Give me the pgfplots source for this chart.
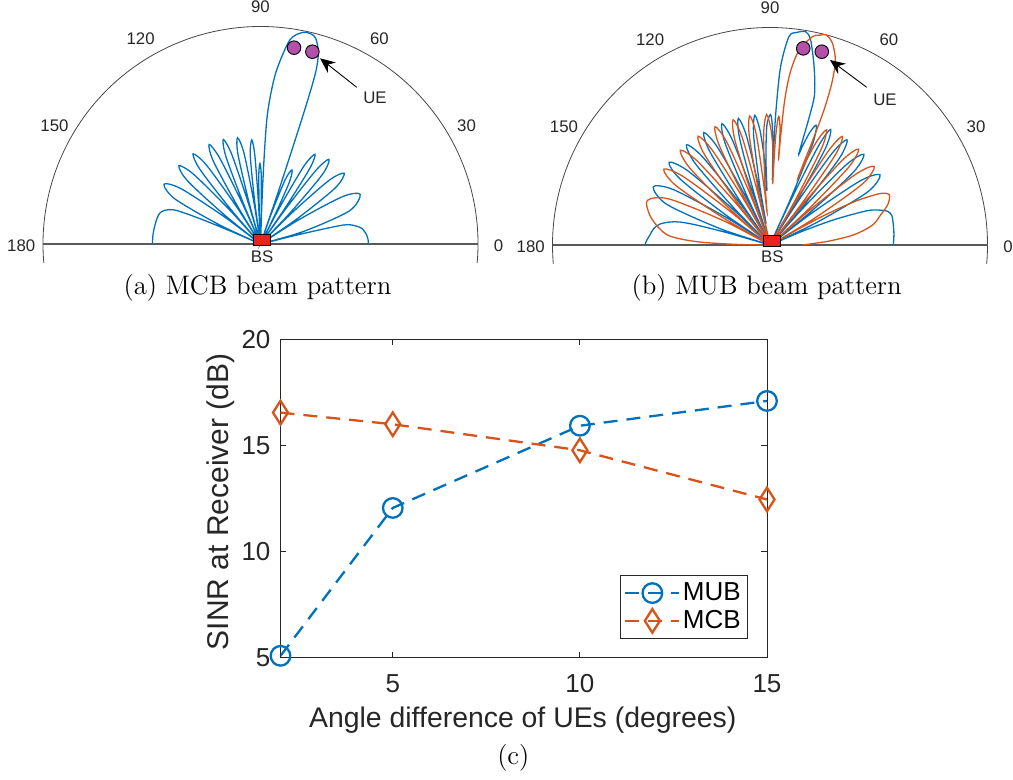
\documentclass[border=0pt]{standalone}
\usepackage{fontspec}
\usepackage{pgfplots}
\pgfplotsset{compat=1.18}
\usetikzlibrary{arrows.meta}
\newfontfamily\lsans{Liberation Sans}
\definecolor{mblue}{RGB}{0,114,189}
\definecolor{morange}{RGB}{217,83,25}
\definecolor{axgray}{RGB}{38,38,38}
\definecolor{uepurple}{RGB}{178,80,170}
\definecolor{bsred}{RGB}{232,35,31}
\definecolor{arcgray}{RGB}{70,70,70}
\pgfplotsset{
  beampolar/.style={x=108.75pt, y=108.75pt, xmin=-1.2, xmax=1.2, ymin=-0.15, ymax=1.15,
    axis lines=none, clip=false, anchor=south west},
}
\tikzset{anglab/.style={font=\lsans\fontsize{8.4}{10}\selectfont, text=axgray}}
\begin{document}
\begin{tikzpicture}
\path[use as bounding box] (0,0) rectangle (506.5pt,-390pt);
% ---------------- (a) MCB beam pattern ----------------
\begin{axis}[beampolar, at={(-0.25pt,-138.3125pt)}]
\draw[arcgray, line width=0.4pt] (axis cs:0.99619,-0.08716) arc[start angle=-5, end angle=185, radius=108.75pt];
\draw[black!65, line width=0.8pt] (axis cs:-1,0) -- (axis cs:1,0);
\addplot[mblue, line width=0.65pt, smooth, data cs=polar] coordinates {
(0,0.496) (2.5,0.495) (4.8,0.49) (8.8,0.471) (11.8,0.428) (12.9,0.39) (13.4,0.3) (13.9,0.15) (14.3,0)
(16.25,0.205) (20.4,0.435) (26.5,0.512) (30.0,0.435) (32.4,0.205) (33.5,0)
(34.57,0.202) (36.85,0.428) (40.2,0.504) (42.9,0.428) (44.74,0.202) (45.6,0)
(46.46,0.2) (48.3,0.426) (51.0,0.501) (53.0,0.426) (54.36,0.2) (55.0,0)
(55.59,0.193) (56.85,0.411) (58.7,0.483) (60.85,0.411) (62.31,0.193) (63,0)
(63.64,0.148) (65,0.315) (67,0.37) (69,0.315) (70.36,0.148) (71,0)
(71.2,0.25) (71.5,0.45) (71.8,0.68) (72.2,0.83) (73.2,0.92) (75.3,0.985) (78.5,0.993) (81.8,0.948) (84.7,0.803) (86.2,0.68) (87.1,0.571) (87.6,0.4) (88.0,0.2) (88.3,0)
(88.64,0.148) (89.35,0.315) (90.4,0.37) (91.45,0.315) (92.16,0.148) (92.5,0)
(92.87,0.192) (93.65,0.408) (94.8,0.48) (96.6,0.408) (97.82,0.192) (98.4,0)
(99.01,0.2) (100.3,0.425) (102.2,0.5) (104.1,0.425) (105.39,0.2) (106.0,0)
(106.58,0.204) (107.8,0.434) (109.6,0.51) (111.55,0.434) (112.88,0.204) (113.5,0)
(114.11,0.206) (115.4,0.438) (117.3,0.515) (119.65,0.438) (121.25,0.206) (122.0,0)
(122.77,0.207) (124.4,0.439) (126.8,0.517) (129.1,0.439) (130.66,0.207) (131.4,0)
(132.17,0.208) (133.8,0.442) (136.2,0.52) (139.15,0.442) (141.16,0.208) (142.1,0)
(143.08,0.209) (145.15,0.444) (148.2,0.522) (152.25,0.444) (155.0,0.209) (156.3,0)
(156.7,0.15) (157.3,0.3) (158.3,0.42) (160.5,0.465) (162.9,0.484) (166,0.49) (170,0.493) (175,0.496) (180,0.497)
};
\addplot[only marks, mark=square*, mark size=2.8pt, mark options={xscale=1.52, fill=bsred, draw=black, line width=0.5pt}, data cs=polar] coordinates {(72,0.018)};
\addplot[only marks, mark=*, mark size=3.4pt, mark options={fill=uepurple, draw=black, line width=0.45pt}, data cs=polar] coordinates {(80.3,0.9157) (74.9,0.9157)};
\draw[black, line width=0.45pt, -{Stealth[length=7.5pt,width=6.5pt]}] (axis cs:0.4423,0.7205) -- (axis cs:0.2736,0.8538);
\node[anglab] at (axis cs:0.5264,0.6699) {UE};
\node[anglab] at (axis cs:0.007,-0.058) {BS};
\node[anglab] at (axis cs:0,1.091) {90};
\node[anglab] at (axis cs:-0.551,0.9457) {120};
\node[anglab] at (axis cs:0.547,0.9457) {60};
\node[anglab] at (axis cs:-0.9474,0.5425) {150};
\node[anglab] at (axis cs:0.9474,0.5425) {30};
\node[anglab] at (axis cs:-1.1,-0.008) {180};
\node[anglab] at (axis cs:1.094,-0.008) {0};
\end{axis}
% ---------------- (b) MUB beam pattern ----------------
\begin{axis}[beampolar, at={(254.5pt,-138.8125pt)}]
\draw[arcgray, line width=0.4pt] (axis cs:0.99619,-0.08716) arc[start angle=-5, end angle=185, radius=108.75pt];
\draw[black!65, line width=0.8pt] (axis cs:-1,0) -- (axis cs:1,0);
\addplot[mblue, line width=0.65pt, smooth, data cs=polar] coordinates {
(0,0.567) (5,0.572) (10,0.575) (13.8,0.576) (16,0.562) (17.9,0.523) (19.5,0.47) (21.5,0.32) (23,0.16) (24.5,0)
(25.78,0.24) (28.5,0.51) (32.5,0.6) (35.4,0.51) (37.37,0.24) (38.3,0)
(39.21,0.24) (41.15,0.51) (44,0.6) (46.45,0.51) (48.12,0.24) (48.9,0)
(49.68,0.24) (51.35,0.51) (53.8,0.6) (55.9,0.51) (57.33,0.24) (58,0)
(58.69,0.24) (60.15,0.51) (62.3,0.6) (63.9,0.51) (64.99,0.24) (65.5,0)
(66.0,0.236) (67.1,0.5) (68.8,0.59) (70.5,0.55) (71.8,0.48) (72.5,0.44)
(72.9,0.6) (73.5,0.72) (76.1,0.844) (78.8,0.961) (80.5,0.994) (82.8,0.985) (84.8,0.962) (86.6,0.821) (87.5,0.606) (87.8,0.42) (87.9,0.3)
(88.3,0.45) (88.9,0.55) (89.8,0.6) (91.5,0.55) (92.7,0.4) (93.3,0.25)
(93.8,0.4) (95.0,0.53) (96.7,0.6) (98.5,0.51) (99.8,0.28) (100.3,0.1)
(100.89,0.26) (102.15,0.51) (104,0.6) (105.9,0.51) (107.19,0.24) (107.8,0)
(108.41,0.24) (109.7,0.51) (111.6,0.6) (113.8,0.51) (115.3,0.24) (116,0)
(116.72,0.24) (118.25,0.51) (120.5,0.6) (122.8,0.51) (124.36,0.24) (125.1,0)
(125.85,0.24) (127.45,0.51) (129.8,0.6) (132.5,0.51) (134.34,0.24) (135.2,0)
(136.08,0.24) (137.95,0.51) (140.7,0.6) (143.75,0.51) (145.82,0.24) (146.8,0)
(147.87,0.24) (150.15,0.51) (153.5,0.6) (158.5,0.51) (161.9,0.24) (163.5,0)
(164,0.2) (164.8,0.35) (165.7,0.427) (167,0.47) (169.2,0.515) (172,0.54) (175.2,0.554) (178,0.568) (180,0.575)
};
\addplot[morange, line width=0.65pt, smooth, data cs=polar] coordinates {
(0,0.15) (2,0.2) (4,0.28) (7,0.39) (11,0.48) (15.2,0.527) (19,0.573) (22.8,0.595) (25,0.56) (27,0.45) (28.5,0.3) (29.3,0.15) (29.9,0)
(31.04,0.24) (33.45,0.51) (37.0,0.6) (39.55,0.51) (41.28,0.24) (42.1,0)
(42.93,0.24) (44.7,0.51) (47.3,0.6) (49.55,0.51) (51.08,0.24) (51.8,0)
(52.52,0.24) (54.05,0.51) (56.3,0.6) (58.15,0.51) (59.41,0.24) (60,0)
(60.61,0.236) (61.9,0.5) (63.8,0.59) (65.6,0.53) (66.8,0.42) (67.4,0.33)
(67.8,0.52) (68.2,0.668) (69.1,0.797) (70.5,0.9) (72.8,0.971) (75,1.0) (76.4,0.993) (78.5,0.977) (81.5,0.906) (83.3,0.8) (84.2,0.67) (84.4,0.5) (84.3,0.39)
(84.8,0.5) (85.5,0.57) (86.3,0.59) (87.0,0.5) (87.3,0.38) (87.5,0.28)
(88.0,0.42) (89.5,0.53) (91.5,0.6) (93.3,0.51) (94.6,0.3) (95.2,0.15)
(95.79,0.26) (97.05,0.51) (98.9,0.6) (100.75,0.51) (102.01,0.24) (102.6,0)
(103.21,0.24) (104.5,0.51) (106.4,0.6) (108.5,0.51) (109.93,0.24) (110.6,0)
(111.29,0.24) (112.75,0.51) (114.9,0.6) (117.05,0.51) (118.51,0.24) (119.2,0)
(119.89,0.24) (121.35,0.51) (123.5,0.6) (125.95,0.51) (127.62,0.24) (128.4,0)
(129.2,0.24) (130.9,0.51) (133.4,0.6) (136.2,0.51) (138.1,0.24) (139,0)
(139.88,0.24) (141.75,0.51) (144.5,0.6) (147.75,0.51) (149.96,0.24) (151,0)
(152.44,0.24) (155.5,0.51) (160,0.6) (166,0.57) (171,0.52) (175,0.46) (177.5,0.33) (179,0.15) (180,0)
};
\addplot[only marks, mark=square*, mark size=2.8pt, mark options={xscale=1.52, fill=bsred, draw=black, line width=0.5pt}, data cs=polar] coordinates {(68,0.0208)};
\addplot[only marks, mark=*, mark size=3.4pt, mark options={fill=uepurple, draw=black, line width=0.45pt}, data cs=polar] coordinates {(80.4,0.917) (75.0,0.92)};
\draw[black, line width=0.45pt, -{Stealth[length=7.5pt,width=6.5pt]}] (axis cs:0.4446,0.7251) -- (axis cs:0.2759,0.8506);
\node[anglab] at (axis cs:0.5287,0.6667) {UE};
\node[anglab] at (axis cs:0.0106,-0.0538) {BS};
\node[anglab] at (axis cs:0,1.091) {90};
\node[anglab] at (axis cs:-0.551,0.9457) {120};
\node[anglab] at (axis cs:0.547,0.9457) {60};
\node[anglab] at (axis cs:-0.9474,0.5425) {150};
\node[anglab] at (axis cs:0.9474,0.5425) {30};
\node[anglab] at (axis cs:-1.1,-0.008) {180};
\node[anglab] at (axis cs:1.094,-0.008) {0};
\end{axis}
\node[font=\fontsize{13.4}{16}\selectfont] at (128.75pt,-144pt) {(a) MCB beam pattern};
\node[font=\fontsize{13.4}{16}\selectfont] at (383.35pt,-144pt) {(b) MUB beam pattern};
% ---------------- (c) SINR ----------------
\begin{axis}[at={(140.25pt,-328.65pt)}, anchor=south west, scale only axis,
  width=243.25pt, height=158.9pt,
  xmin=2, xmax=15, ymin=5, ymax=20,
  xtick={5,10,15}, ytick={5,10,15,20},
  tick align=inside, major tick length=2.8pt,
  axis line style={draw=axgray, line width=0.45pt},
  every tick/.style={axgray, line width=0.45pt},
  /pgf/number format/assume math mode=true,
  ticklabel style={font=\lsans\fontsize{13}{15}\selectfont, text=axgray},
  xticklabel style={anchor=center, yshift=-13pt},
  yticklabel style={anchor=east, xshift=-1.5pt},
  xlabel={Angle difference of UEs (degrees)},
  ylabel={SINR at Receiver (dB)},
  xlabel style={font=\lsans\fontsize{14.2}{17}\selectfont, text=axgray, at={(axis description cs:0.498,-0.1973)}, anchor=center},
  ylabel style={font=\lsans\fontsize{15}{18}\selectfont, text=axgray, at={(axis description cs:-0.1223,0.489)}, anchor=center},
  legend style={at={(axis description cs:0.96,0.0566)}, anchor=south east,
    draw=axgray, line width=0.45pt, font=\lsans\fontsize{13}{15}\selectfont,
    text=black, inner xsep=2pt, inner ysep=2.5pt, row sep=1pt,
    nodes={inner sep=1.2pt}},
  legend cell align=left,
  legend image code/.code={\draw[mark repeat=2, mark phase=2] plot coordinates {(0pt,0pt) (13.5pt,0pt) (27pt,0pt)};},
]
\addplot[mblue, line width=1.15pt, dash pattern=on 7pt off 4.5pt, mark=o, mark size=4.9pt, mark options={solid}] coordinates {
(2,5.07) (5,12.05) (10,15.93) (15,17.1)};
\addlegendentry{MUB}
\addplot[morange, line width=1.15pt, dash pattern=on 7pt off 4.5pt, mark=diamond, mark size=5.9pt, mark options={solid, xscale=0.85}] coordinates {
(2,16.55) (5,16.0) (10,14.77) (15,12.45)};
\addlegendentry{MCB}
\end{axis}
\node[font=\fontsize{13.4}{16}\selectfont] at (256.65pt,-379.15pt) {(c)};
\end{tikzpicture}
\end{document}
